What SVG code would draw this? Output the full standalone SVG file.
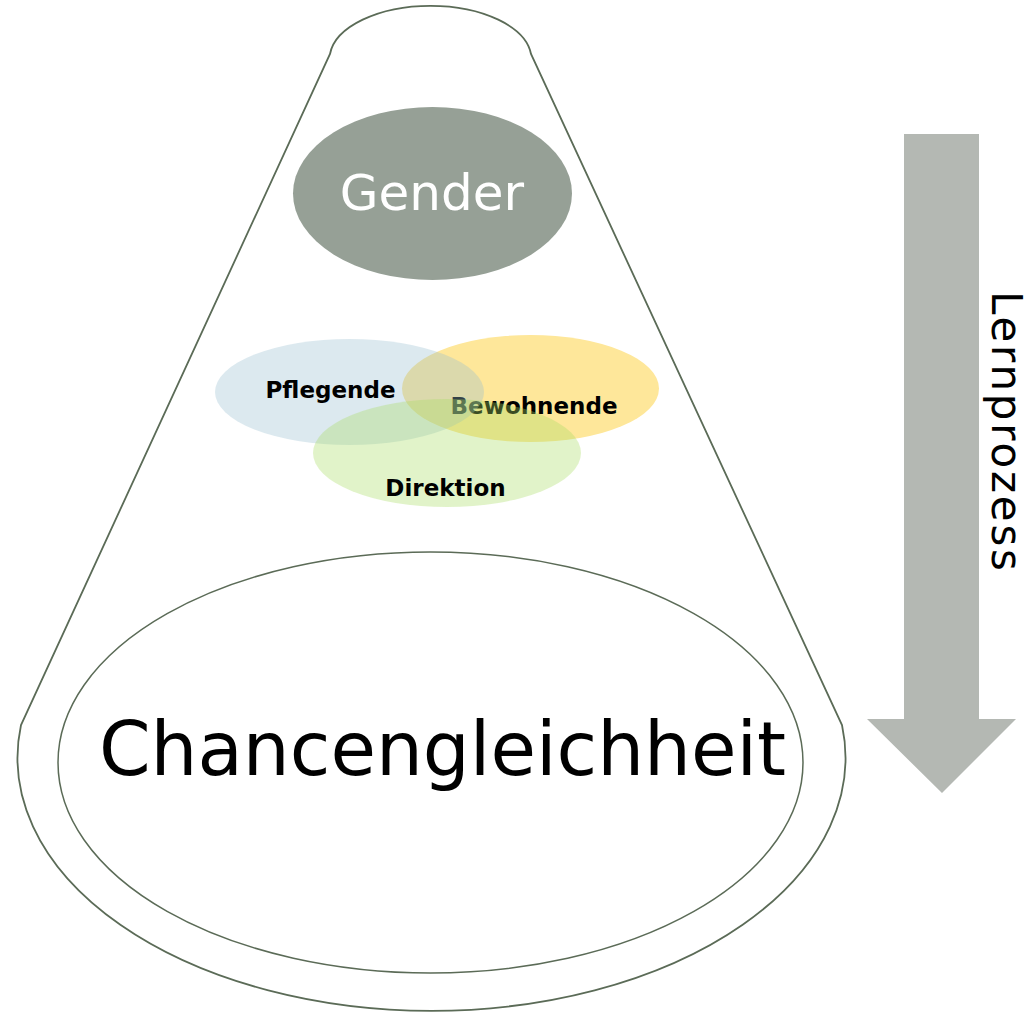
<svg xmlns="http://www.w3.org/2000/svg" width="1033" height="1014" viewBox="0 0 1033 1014">
<style>
.outline{fill:none;stroke:#5b6b57;stroke-width:1.8}
.inner{fill:none;stroke:#5b6b57;stroke-width:1.5}
.lbl{font-family:"DejaVu Sans","Liberation Sans",sans-serif;font-weight:bold;font-size:23px;fill:#000;text-anchor:middle}
.big{font-family:"DejaVu Sans","Liberation Sans",sans-serif;text-anchor:middle}
</style>
<rect width="1033" height="1014" fill="#fff"/>
<g id="cone">
<path class="outline" d="M 330 54 A 101 53.5 0 0 1 531 54 L 842 725 A 414 253 0 1 1 21 725 Z"/>
</g>
<g id="gender">
<ellipse cx="432.5" cy="193.5" rx="139.5" ry="86.5" fill="#96a096"/>
<text class="big" x="432" y="210" font-size="50" fill="#fff">Gender</text>
</g>
<g id="bewohnende">
<ellipse cx="530.5" cy="388.5" rx="128.5" ry="53.5" fill="#fee79a"/>
<text class="lbl" x="534" y="414">Bewohnende</text>
</g>
<g id="pflegende">
<ellipse cx="349.5" cy="392" rx="134.5" ry="53" fill="rgb(152,191,208)" fill-opacity="0.34"/>
<text class="lbl" x="330.5" y="398">Pflegende</text>
</g>
<g id="direktion">
<ellipse cx="447" cy="453" rx="134" ry="54" fill="rgb(170,220,100)" fill-opacity="0.35"/>
<text class="lbl" x="445.5" y="496">Direktion</text>
</g>
<g id="chancengleichheit">
<ellipse class="inner" cx="430.5" cy="762.5" rx="372.5" ry="210.5"/>
<text class="big" x="442.5" y="775" font-size="74" fill="#000">Chancengleichheit</text>
</g>
<g id="lernprozess">
<path d="M 904 134 L 979 134 L 979 719 L 1016 719 L 942 793 L 867 719 L 904 719 Z" fill="#b4b8b3"/>
<text class="big" transform="translate(992 431) rotate(90)" x="0" y="0" font-size="42" fill="#000" textLength="280" lengthAdjust="spacing">Lernprozess</text>
</g>
<g id="connectors"></g>
</svg>
